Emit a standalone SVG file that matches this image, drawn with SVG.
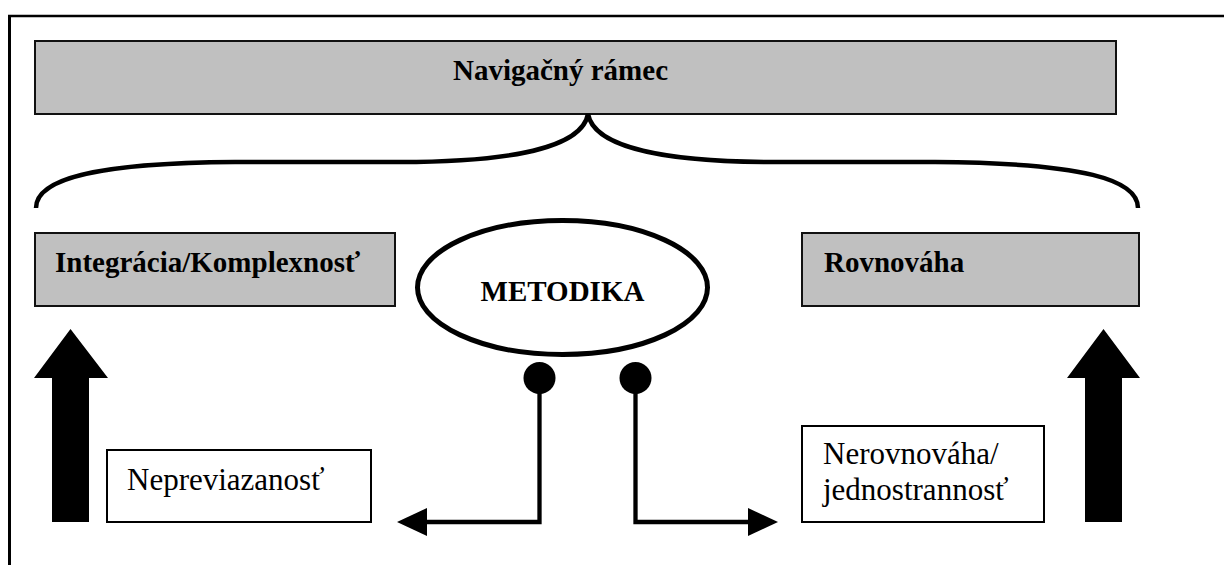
<svg xmlns="http://www.w3.org/2000/svg" width="1224" height="565" viewBox="0 0 1224 565">
  <style>
    .box { fill: #c0c0c0; stroke: #111; stroke-width: 2; }
    .plain { fill: #fff; stroke: #000; stroke-width: 2; }
    .bold { font-family: "Liberation Serif", "Times New Roman", serif; font-weight: bold; font-size: 29px; fill: #000; }
    .reg { font-family: "Liberation Serif", "Times New Roman", serif; font-size: 31px; fill: #000; }
    .wire { fill: none; stroke: #000; stroke-width: 4.5; }
  </style>
  <defs>
    <marker id="head" viewBox="0 0 30 30" refX="2" refY="15" markerWidth="30" markerHeight="30" markerUnits="userSpaceOnUse" orient="auto">
      <path d="M0,1 L30,15 L0,29 Z" fill="#000"/>
    </marker>
  </defs>

  <rect width="1224" height="565" fill="#fff"/>

  <!-- outer frame (top and left edges) -->
  <g id="frame">
    <line x1="9.5" y1="15" x2="9.5" y2="565" stroke="#000" stroke-width="3"/>
    <line x1="8" y1="16" x2="1224" y2="16" stroke="#000" stroke-width="2.5"/>
  </g>

  <g id="navigacny-ramec">
    <rect class="box" x="35" y="41" width="1081" height="73"/>
    <text class="bold" x="453" y="80">Navigačný rámec</text>
  </g>

  <g id="integracia">
    <rect class="box" x="35" y="233" width="360" height="73"/>
    <text class="bold" x="55" y="272">Integrácia/Komplexnosť</text>
  </g>

  <g id="rovnovaha">
    <rect class="box" x="802" y="233" width="337" height="73"/>
    <text class="bold" x="824" y="272">Rovnováha</text>
  </g>

  <g id="metodika">
    <ellipse cx="562.5" cy="287.5" rx="145" ry="67" fill="#fff" stroke="#000" stroke-width="5"/>
    <text class="bold" x="562.5" y="301" text-anchor="middle">METODIKA</text>
  </g>

  <g id="nepreviazanost">
    <rect class="plain" x="107" y="450" width="264" height="72"/>
    <text class="reg" x="127" y="490">Nepreviazanosť</text>
  </g>

  <g id="nerovnovaha">
    <rect class="plain" x="802" y="426" width="242" height="96"/>
    <text class="reg" x="823" y="464">Nerovnováha/</text>
    <text class="reg" x="823" y="500">jednostrannosť</text>
  </g>

  <g id="connectors">
    <!-- brace under the navigation frame -->
    <path class="wire" d="M36,208 C36,180 90,163 235,162 L400,162 C510,162 582,148 588,114 C594,148 666,162 776,162 L935,162 C1085,163 1138,180 1138,208"/>

    <!-- wide upward arrows -->
    <path d="M70.5,329 L108,378 L89,378 L89,522 L52,522 L52,378 L34,378 Z" fill="#000"/>
    <path d="M1103.5,329 L1140,378 L1122,378 L1122,522 L1085,522 L1085,378 L1067,378 Z" fill="#000"/>

    <!-- lollipop links out of the method -->
    <circle cx="539.5" cy="378" r="16" fill="#000"/>
    <circle cx="635.5" cy="378" r="16" fill="#000"/>
    <path d="M539.5,378 L539.5,522 L425,522" fill="none" stroke="#000" stroke-width="4.3" marker-end="url(#head)"/>
    <path d="M635.5,378 L635.5,522 L750,522" fill="none" stroke="#000" stroke-width="4.3" marker-end="url(#head)"/>
  </g>
</svg>
